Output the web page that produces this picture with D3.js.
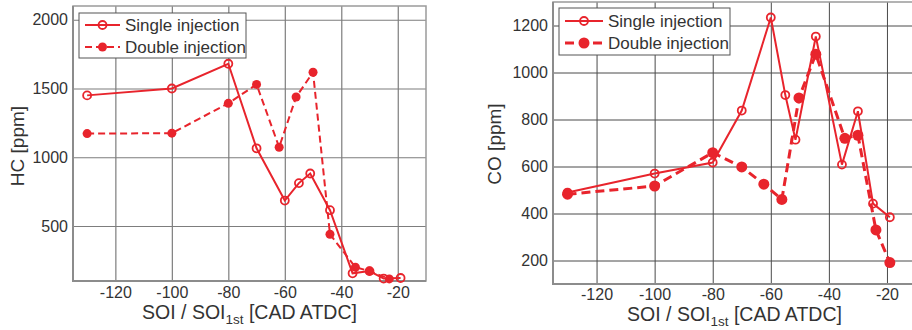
<!DOCTYPE html>
<html>
<head>
<meta charset="utf-8">
<script src="https://cdn.jsdelivr.net/npm/d3@7"></script>
<style>
    body { margin: 0; background: #fff; }
    svg { display: block; font-family: "Liberation Sans", Arial, sans-serif; }
</style>
</head>
<body>
<svg id="chart" width="912" height="330"></svg>
<script>
// SOI positions (CAD ATDC) and emissions
const hcSingleSoi = [-130, -100, -80, -70, -60, -55, -51, -44, -36, -30, -25, -19];
const hcSingleVal = [1450, 1500, 1680, 1065, 685, 812, 882, 615, 156, 172, 118, 122];
const hcDoubleSoi = [-130, -100, -80, -70, -62, -56, -50, -44, -35, -30, -23];
const hcDoubleVal = [1172, 1175, 1392, 1530, 1073, 1438, 1618, 440, 200, 172, 115];

const coSingleSoi = [-130, -100, -80, -70, -60, -55, -51.5, -44.5, -35.5, -30, -24.8, -19];
const coSingleVal = [489, 570, 617, 838, 1234, 904, 714, 1153, 608, 835, 442, 384];
const coDoubleSoi = [-130, -100, -80, -70, -62.4, -56.2, -50.3, -44.5, -34.5, -30, -23.8, -19];
const coDoubleVal = [482, 517, 659, 598, 525, 460, 892, 1078, 720, 733, 330, 191];

const xTickValues = [-120, -100, -80, -60, -40, -20];
const hcTickValues = [500, 1000, 1500, 2000];
const coTickValues = [200, 400, 600, 800, 1000, 1200];
const seriesNames = ['Single injection', 'Double injection'];

const RED = '#e8242c';
const FONT = '"Liberation Sans", Arial, sans-serif';
const plain = d => String(d);   // hyphen minus, no thousands separator
const svg = d3.select('#chart');

function drawPanel(cfg) {
    const x = d3.scaleLinear().domain([-135, -10]).range([cfg.left, cfg.right]);
    const y = d3.scaleLinear().domain(cfg.yDomain).range([cfg.bottom, cfg.top]);
    const g = svg.append('g');

    // grid
    g.append('g')
        .attr('transform', `translate(0,${cfg.bottom})`)
        .call(d3.axisBottom(x).tickValues(xTickValues).tickSize(-(cfg.bottom - cfg.top)).tickFormat(''))
        .call(a => a.select('.domain').remove())
        .call(a => a.selectAll('line').attr('stroke', cfg.gridColor).attr('stroke-width', cfg.gridWidth));
    g.append('g')
        .attr('transform', `translate(${cfg.left},0)`)
        .call(d3.axisLeft(y).tickValues(cfg.yTicks).tickSize(-(cfg.right - cfg.left)).tickFormat(''))
        .call(a => a.select('.domain').remove())
        .call(a => a.selectAll('line').attr('stroke', cfg.gridColor).attr('stroke-width', cfg.gridWidth));

    // frame
    g.append('rect')
        .attr('x', cfg.left).attr('y', cfg.top)
        .attr('width', cfg.right - cfg.left).attr('height', cfg.bottom - cfg.top)
        .attr('fill', 'none').attr('stroke', '#9a9a9a').attr('stroke-width', 1.5);
    g.append('path')
        .attr('d', `M${cfg.left},${cfg.top}V${cfg.bottom}H${cfg.right}`)
        .attr('fill', 'none').attr('stroke', '#8c8c8c').attr('stroke-width', 2);

    // tick labels
    g.append('g')
        .attr('transform', `translate(0,${cfg.bottom})`)
        .call(d3.axisBottom(x).tickValues(xTickValues).tickSize(0).tickPadding(cfg.xTickPad).tickFormat(plain))
        .call(a => a.select('.domain').remove())
        .call(a => a.selectAll('text').attr('font-size', 16).attr('fill', '#333').attr('font-family', FONT));
    g.append('g')
        .attr('transform', `translate(${cfg.left},0)`)
        .call(d3.axisLeft(y).tickValues(cfg.yTicks).tickSize(0).tickPadding(cfg.yTickPad).tickFormat(plain))
        .call(a => a.select('.domain').remove())
        .call(a => a.selectAll('text').attr('font-size', 16).attr('fill', '#333').attr('font-family', FONT));

    // axis titles
    const xt = g.append('text')
        .attr('x', (cfg.left + cfg.right) / 2)
        .attr('y', cfg.xTitleY)
        .attr('text-anchor', 'middle')
        .attr('font-size', 19.5)
        .attr('fill', '#333');
    xt.append('tspan').text('SOI / SOI');
    xt.append('tspan').attr('dy', 5).attr('font-size', 13.5).text('1st');
    xt.append('tspan').attr('dy', -5).text(' [CAD ATDC]');

    g.append('text')
        .attr('transform', `translate(${cfg.yTitleX},${cfg.yTitleY}) rotate(-90)`)
        .attr('text-anchor', 'middle')
        .attr('font-size', 19)
        .attr('fill', '#333')
        .text(cfg.yLabel);

    // series
    const single = cfg.singleSoi.map((s, i) => ({ s, v: cfg.singleVal[i] }));
    const double = cfg.doubleSoi.map((s, i) => ({ s, v: cfg.doubleVal[i] }));
    const line = d3.line().x(d => x(d.s)).y(d => y(d.v));

    g.append('path').datum(double)
        .attr('d', line)
        .attr('fill', 'none').attr('stroke', RED)
        .attr('stroke-width', cfg.dashWidth)
        .attr('stroke-dasharray', cfg.dash);
    g.append('path').datum(single)
        .attr('d', line)
        .attr('fill', 'none').attr('stroke', RED)
        .attr('stroke-width', 2);

    g.selectAll('.dbl').data(double).enter().append('circle')
        .attr('class', 'dbl')
        .attr('cx', d => x(d.s)).attr('cy', d => y(d.v))
        .attr('r', cfg.filledR).attr('fill', RED);
    g.selectAll('.sgl').data(single).enter().append('circle')
        .attr('class', 'sgl')
        .attr('cx', d => x(d.s)).attr('cy', d => y(d.v))
        .attr('r', 4).attr('fill', 'none')
        .attr('stroke', RED).attr('stroke-width', 1.8);

    // legend
    const lg = g.append('g').attr('transform', `translate(${cfg.legend.x},${cfg.legend.y})`);
    lg.append('rect')
        .attr('width', cfg.legend.w).attr('height', cfg.legend.h)
        .attr('fill', '#fff').attr('stroke', '#555').attr('stroke-width', 1);
    seriesNames.forEach((name, i) => {
        const ry = cfg.legend.rows[i];
        lg.append('line')
            .attr('x1', 6).attr('x2', cfg.legend.sample)
            .attr('y1', ry).attr('y2', ry)
            .attr('stroke', RED)
            .attr('stroke-width', i === 0 ? 2 : cfg.dashWidth)
            .attr('stroke-dasharray', i === 0 ? null : cfg.dash);
        const mx = (6 + cfg.legend.sample) / 2;
        if (i === 0) {
            lg.append('circle').attr('cx', mx).attr('cy', ry).attr('r', 4)
                .attr('fill', 'none').attr('stroke', RED).attr('stroke-width', 1.8);
        } else {
            lg.append('circle').attr('cx', mx).attr('cy', ry).attr('r', cfg.filledR).attr('fill', RED);
        }
        lg.append('text')
            .attr('x', cfg.legend.sample + 5).attr('y', ry + 6)
            .attr('font-size', 17).attr('fill', '#333')
            .text(name);
    });
}

drawPanel({
    left: 73, right: 426, top: 6, bottom: 281,
    yDomain: [100, 2100], yTicks: hcTickValues, yLabel: 'HC [ppm]',
    gridColor: '#7d7d7d', gridWidth: 1.2,
    xTickPad: 6, yTickPad: 5,
    xTitleY: 319,
    yTitleX: 24, yTitleY: 146,
    singleSoi: hcSingleSoi, singleVal: hcSingleVal,
    doubleSoi: hcDoubleSoi, doubleVal: hcDoubleVal,
    dash: '7,4', dashWidth: 2, filledR: 4.5,
    legend: { x: 79, y: 13, w: 167, h: 45, rows: [12, 34], sample: 41 }
});

drawPanel({
    left: 553, right: 916, top: 2, bottom: 284,
    yDomain: [100, 1300], yTicks: coTickValues, yLabel: 'CO [ppm]',
    gridColor: '#4a4a4a', gridWidth: 1,
    xTickPad: 5, yTickPad: 5,
    xTitleY: 321,
    yTitleX: 501, yTitleY: 144,
    singleSoi: coSingleSoi, singleVal: coSingleVal,
    doubleSoi: coDoubleSoi, doubleVal: coDoubleVal,
    dash: '9,5', dashWidth: 3, filledR: 5.5,
    legend: { x: 559, y: 8, w: 171, h: 47, rows: [13, 35], sample: 44 }
});
</script>
</body>
</html>
